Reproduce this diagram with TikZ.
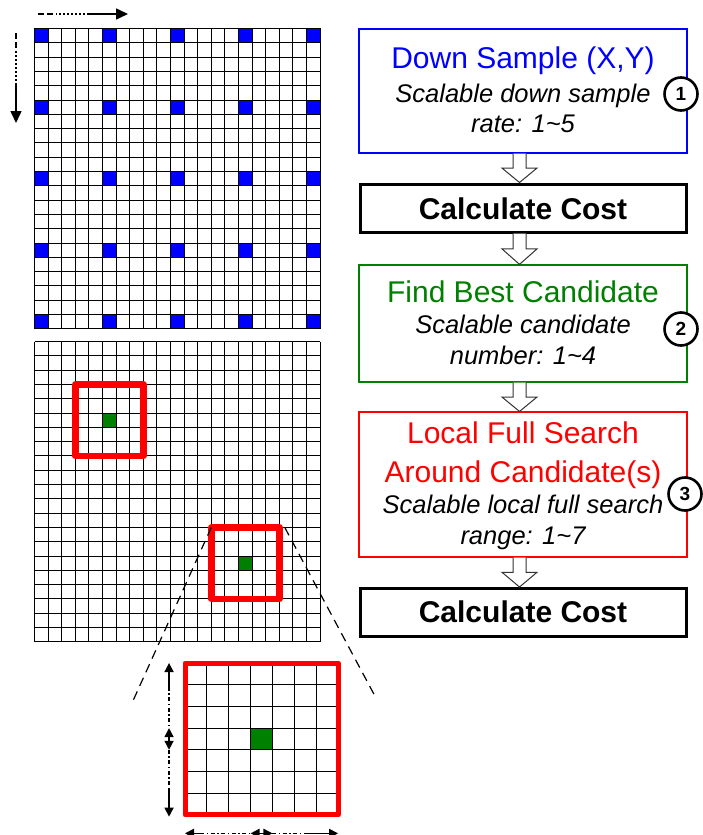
\documentclass[tikz,border=0pt]{standalone}
\usepackage{fontspec}
\setmainfont{Liberation Sans}
\usetikzlibrary{calc,arrows.meta}

\definecolor{dkgreen}{RGB}{0,128,0}

% hollow block arrow between two stacked boxes
\newcommand\flowarrow[2]{%
  \draw[hollowarrow] let \p1=($(#1.south)+(-3.5,0)$), \p2=($(#2.north)+(-3.5,0)$) in
    (\x1-6.5pt,\y1) -- (\x1-6.5pt,{(\y1+\y2)/2}) -- (\x1-17.5pt,{(\y1+\y2)/2})
    -- (\x1,\y2) -- (\x1+17.5pt,{(\y1+\y2)/2}) -- (\x1+6.5pt,{(\y1+\y2)/2})
    -- (\x1+6.5pt,\y1);}

% square lattice of n x n cells in the current unit vectors
\newcommand\cellgrid[2]{%
  \foreach \k in {0,...,#1} {
    \draw[#2] (\k,0) -- (\k,#1);
    \draw[#2] (0,\k) -- (#1,\k);
  }}

\begin{document}
\begin{tikzpicture}[x=1pt,y=-1pt,
  gridline/.style={draw=black,line width=0.9pt},
  bluecell/.style={fill=blue,draw=black,line width=0.9pt},
  greencell/.style={fill=dkgreen,draw=black,line width=0.9pt},
  redsq/.style={draw=red,line width=6.5pt,line join=round},
  zoomline/.style={draw=black,line width=1.2pt,dash pattern=on 9pt off 6pt},
  stagebox/.style={draw,line width=1.3pt,minimum width=328pt,inner sep=0pt},
  costbox/.style={draw=black,line width=3pt,minimum width=326pt,minimum height=48pt,inner sep=0pt},
  title/.style={anchor=base,font=\fontsize{30}{34}\selectfont},
  costtext/.style={anchor=base,font=\fontsize{30}{34}\selectfont\bfseries},
  sub/.style={anchor=base,font=\fontsize{25.5}{30}\selectfont\itshape},
  stepmark/.style={circle,draw=black,line width=2.6pt,fill=white,minimum size=33pt,
    inner sep=0pt,font=\fontsize{19}{22}\selectfont\bfseries},
  hollowarrow/.style={draw=black!80,fill=white,line width=1pt},
  head/.style={-{Triangle[length=12pt,width=11pt]}},
  dimline/.style={line width=1.5pt},
  dimhead/.style={{Triangle[length=9pt,width=9pt]}-{Triangle[length=9pt,width=9pt]}},
  dashpart/.style={line width=1.6pt,dash pattern=on 6pt off 3pt},
  dotpart/.style={line width=1.6pt,dash pattern=on 1.5pt off 2.5pt},
  dashdotpart/.style={line width=1.5pt,dash pattern=on 4pt off 2.5pt on 1.5pt off 2.5pt}]
\useasboundingbox (0,0) rectangle (702,835);

% ---- scan direction arrows
\coordinate (h0) at (38,14);  \coordinate (h1) at (57,14);
\coordinate (h2) at (59,14);  \coordinate (h3) at (87,14);
\coordinate (h4) at (128,14);
\draw[dashpart] (h0) -- (h1);
\draw[dotpart] (h2) -- (h3);
\draw[line width=1.6pt,head] (h3) -- (h4);
\coordinate (v0) at (16,33);  \coordinate (v1) at (16,53);
\coordinate (v2) at (16,55);  \coordinate (v3) at (16,83);
\coordinate (v4) at (16,123);
\draw[dashpart] (v0) -- (v1);
\draw[dotpart] (v2) -- (v3);
\draw[line width=1.6pt,head] (v3) -- (v4);

% ---- down-sampled search grid
\begin{scope}[shift={(34.5,28.5)},x=13.6pt,y=-14.3pt]
  \cellgrid{21}{gridline}
  \foreach \i in {0,5,...,20}
    \foreach \j in {0,5,...,20}
      \draw[bluecell] (\i,\j) rectangle +(1,1);
\end{scope}

% ---- candidate grid with local search windows
\begin{scope}[shift={(34.5,341.5)},x=13.6pt,y=-14.3pt]
  \cellgrid{21}{gridline}
  \draw[greencell] (5,5) rectangle +(1,1);
  \draw[greencell] (15,15) rectangle +(1,1);
  \draw[redsq] (3,3) rectangle (8,8);
  \draw[redsq] (13,13) rectangle (18,18);
  \coordinate (winL) at (13,13);
  \coordinate (winR) at (18.4,13);
\end{scope}

% ---- zoom guide lines
\coordinate (zoomL) at (132,703);
\coordinate (zoomR) at (376,698);
\draw[zoomline] (winL) -- (zoomL);
\draw[zoomline] (winR) -- (zoomR);

% ---- enlarged search window
\begin{scope}[shift={(185,663)},x=21.86pt,y=-21.7pt]
  \cellgrid{7}{draw=black,line width=1pt}
  \draw[greencell] (3,3) rectangle +(1,1);
  \draw[draw=red,line width=5pt,line join=round] (0,0) rectangle (7,7);
  \coordinate (ya) at (-0.73,0);   \coordinate (yb) at (-0.73,3);
  \coordinate (yc) at (-0.73,4);   \coordinate (yd) at (-0.73,7.08);
  \coordinate (ya1) at (-0.73,1.1); \coordinate (yd1) at (-0.73,5.8);
  \coordinate (xa) at (0,7.85);    \coordinate (xb) at (3,7.85);
  \coordinate (xc) at (4,7.85);    \coordinate (xd) at (7,7.85);
  \coordinate (xa1) at (0.7,7.85); \coordinate (xd1) at (5.6,7.85);
\end{scope}
% range arrows
\draw[dimline,{Triangle[length=9pt,width=9pt]}-] (ya) -- (ya1);
\draw[dashdotpart] (ya1) -- (yb);
\draw[dimline,dimhead] (yb) -- (yc);
\draw[dashdotpart] (yc) -- (yd1);
\draw[dimline,-{Triangle[length=9pt,width=9pt]}] (yd1) -- (yd);
\draw[dimline,{Triangle[length=9pt,width=9pt]}-] (xa) -- (xa1);
\draw[dashdotpart] (xa1) -- (xb);
\draw[dimline,dimhead] (xb) -- (xc);
\draw[dashdotpart] (xc) -- (xd1);
\draw[dimline,-{Triangle[length=9pt,width=9pt]}] (xd1) -- (xd);

% ---- flow of the search stages
\node[stagebox,draw=blue,minimum height=124pt] (ds) at (523,91) {};
\node[title,text=blue] (dsT) at (523,68) {Down Sample (X,Y)};
\node[sub] (dsA) at (523,102) {Scalable down sample};
\node[sub] (dsB) at (523,132) {rate: 1\textasciitilde5};

\node[costbox] (cost1) at (523,208) {};
\node[costtext] (cost1T) at (523,219) {Calculate Cost};

\node[stagebox,draw=dkgreen,minimum height=117pt] (fb) at (523,323.5) {};
\node[title,text=dkgreen] (fbT) at (523,302) {Find Best Candidate};
\node[sub] (fbA) at (523,333) {Scalable candidate};
\node[sub] (fbB) at (523,364) {number: 1\textasciitilde4};

\node[stagebox,draw=red,line width=1.1pt,minimum height=145pt] (lf) at (523,484.5) {};
\node[title,text=red] (lfT) at (523,443) {Local Full Search};
\node[title,text=red] (lfU) at (523,482) {Around Candidate(s)};
\node[sub] (lfA) at (523,513) {Scalable local full search};
\node[sub] (lfB) at (523,544) {range: 1\textasciitilde7};

\node[costbox] (cost2) at (523,612.5) {};
\node[costtext] (cost2T) at (523,622) {Calculate Cost};

\flowarrow{ds}{cost1}
\flowarrow{cost1}{fb}
\flowarrow{fb}{lf}
\flowarrow{lf}{cost2}

\node[stepmark] (m1) at (681,94) {1};
\node[stepmark] (m2) at (681,329) {2};
\node[stepmark] (m3) at (685,494) {3};
\end{tikzpicture}
\end{document}
